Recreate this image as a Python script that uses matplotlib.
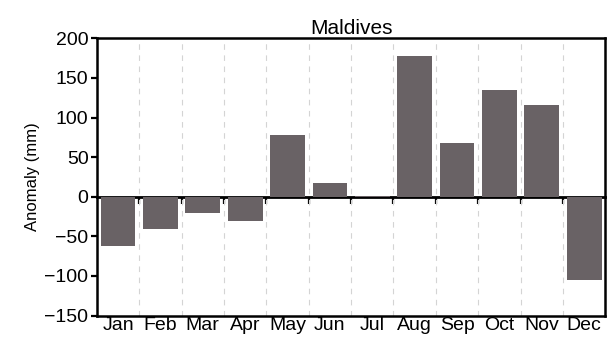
import numpy as np
import matplotlib.pyplot as plt

# monthly rainfall anomaly, Maldives
months = ['Jan', 'Feb', 'Mar', 'Apr', 'May', 'Jun', 'Jul', 'Aug', 'Sep', 'Oct', 'Nov', 'Dec']
anomaly = [-62, -41, -21, -31, 78, 17, 1, 178, 68, 135, 116, -105]

plt.rcParams['font.family'] = ['Liberation Sans', 'DejaVu Sans']

fig = plt.figure(figsize=(6.09, 3.39), dpi=100)
ax = fig.add_axes([0.159, 0.069, 0.835, 0.818])

x = np.arange(len(months))
ax.bar(x, anomaly, width=0.82, color='#696265', zorder=2)

# dashed separators between months
for b in np.arange(0.5, len(months) - 1, 1.0):
    ax.axvline(b, color='#d4d4d4', lw=0.8, ls=(0, (5, 5)), zorder=1)

ax.set_xlim(-0.5, len(months) - 0.5)
ax.set_ylim(-150, 200)
ax.set_yticks([-150, -100, -50, 0, 50, 100, 150, 200])
ax.set_yticklabels(['\u2212150', '\u2212100', '\u221250', '0', '50', '100', '150', '200'])
ax.set_xticks(x)
ax.set_xticklabels(months)
ax.tick_params(axis='x', length=0, pad=1, labelsize=14)
ax.tick_params(axis='y', direction='out', length=4, width=1.6, pad=2, labelsize=14)
for s in ax.spines.values():
    s.set_linewidth(1.8)

# zero line carrying the month boundary ticks
zero = ax.secondary_xaxis(0, transform=ax.transData)
zero.set_xticks(np.arange(0.5, len(months) - 0.5, 1.0))
zero.set_xticklabels([])
zero.tick_params(direction='out', length=5, width=1.6)
zero.spines['bottom'].set_linewidth(2.0)

ax.set_ylabel('Anomaly (mm)', fontsize=12, labelpad=3)
ax.set_title('Maldives', fontsize=15, pad=3)

fig.savefig('out.png', dpi=100)
